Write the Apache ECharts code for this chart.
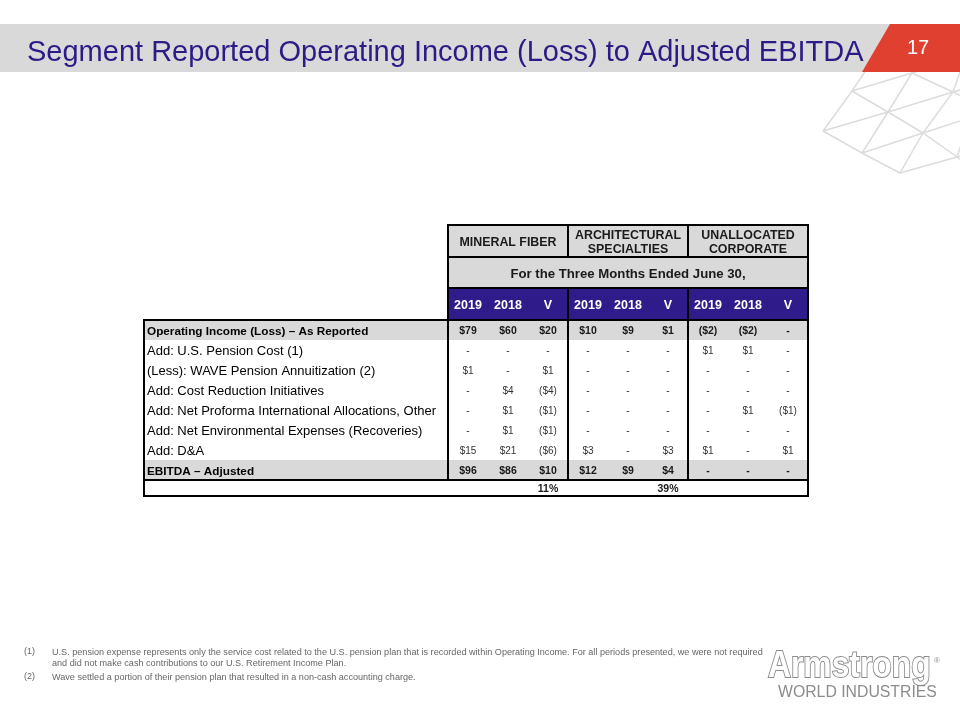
<!DOCTYPE html>
<html>
<head>
<meta charset="utf-8">
<script src="https://cdn.jsdelivr.net/npm/echarts@6/dist/echarts.min.js"></script>
<style>html,body{margin:0;padding:0;background:#fff}#c{width:960px;height:720px}</style>
</head>
<body>
<div id="c"></div>
<script>
// ---------- data ----------
const titleText = 'Segment Reported Operating Income (Loss) to Adjusted EBITDA';
const pageNumber = '17';
const segments = ['MINERAL FIBER', 'ARCHITECTURAL\nSPECIALTIES', 'UNALLOCATED\nCORPORATE'];
const periodLabel = 'For the Three Months Ended June 30,';
const columnHeads = ['2019', '2018', 'V'];
const rowLabels = [
  'Operating Income (Loss) \u2013 As Reported',
  'Add: U.S. Pension Cost (1)',
  '(Less): WAVE Pension Annuitization (2)',
  'Add: Cost Reduction Initiatives',
  'Add: Net Proforma International Allocations, Other',
  'Add: Net Environmental Expenses (Recoveries)',
  'Add: D&A',
  'EBITDA \u2013 Adjusted'
];
const boldRows = [0, 7];
// values in $ millions; null = "-"
const mineralFiber2019 = [79, null, 1, null, null, null, 15, 96];
const mineralFiber2018 = [60, null, null, 4, 1, 1, 21, 86];
const mineralFiberV    = [20, null, 1, -4, -1, -1, -6, 10];
const archSpec2019     = [10, null, null, null, null, null, 3, 12];
const archSpec2018     = [9, null, null, null, null, null, null, 9];
const archSpecV        = [1, null, null, null, null, null, 3, 4];
const unallocated2019  = [-2, 1, null, null, null, null, 1, null];
const unallocated2018  = [-2, 1, null, null, 1, null, null, null];
const unallocatedV     = [null, null, null, null, -1, null, 1, null];
const marginRow = ['', '', '11%', '', '', '39%', '', '', ''];
const footnoteMarks = ['(1)', '', '(2)'];
const footnoteLines = [
  'U.S. pension expense represents only the service cost related to the U.S. pension plan that is recorded within Operating Income. For all periods presented, we were not required',
  'and did not make cash contributions to our U.S. Retirement Income Plan.',
  'Wave settled a portion of their pension plan that resulted in a non-cash accounting charge.'
];

// ---------- layout / style ----------
const FONT = "Arial, 'Liberation Sans', sans-serif";
const GRAY = '#d9d9d9', PURPLE = '#2f1c8a', TXT = '#1a1a1a';
const LABEL_W = 7.6;            // label column width in column units
const headerEdges = [0, 1.6, 3.15, 4.75];
const DATA_TOP = 4.75;
const MARGIN_H = 0.8;
const TEXT_DY = 1.5;
const valueColumns = [mineralFiber2019, mineralFiber2018, mineralFiberV,
  archSpec2019, archSpec2018, archSpecV, unallocated2019, unallocated2018, unallocatedV];
const X_MAX = LABEL_W + valueColumns.length;
const Y_MAX = DATA_TOP + rowLabels.length + MARGIN_H;

function fmt(v) {
  if (v === null || v === undefined) return '-';
  return v < 0 ? '($' + (-v) + ')' : '$' + v;
}

const cells = [];
segments.forEach((s, g) => cells.push({ value: [LABEL_W + 3 * g, LABEL_W + 3 * g + 3, headerEdges[0], headerEdges[1]],
  fill: GRAY, text: s, font: 'bold 12.4px ' + FONT, color: TXT, lh: 14.5 }));
cells.push({ value: [LABEL_W, X_MAX, headerEdges[1], headerEdges[2]], fill: GRAY, text: periodLabel,
  font: 'bold 13.2px ' + FONT, color: TXT });
valueColumns.forEach((col, j) => cells.push({ value: [LABEL_W + j, LABEL_W + j + 1, headerEdges[2], headerEdges[3]],
  fill: PURPLE, text: columnHeads[j % 3], font: 'bold 12.5px ' + FONT, color: '#ffffff' }));
rowLabels.forEach((lab, i) => {
  const bold = boldRows.indexOf(i) >= 0;
  const y0 = DATA_TOP + i, y1 = y0 + 1;
  cells.push({ value: [0, LABEL_W, y0, y1], fill: bold ? GRAY : null, text: lab, align: 'left', pad: 3,
    font: (bold ? 'bold 11.75px ' : '13px ') + FONT, color: '#000' });
  valueColumns.forEach((col, j) => cells.push({ value: [LABEL_W + j, LABEL_W + j + 1, y0, y1], fill: bold ? GRAY : null,
    text: fmt(col[i]), font: (bold ? 'bold 10.5px ' : '10px ') + FONT, color: bold ? TXT : '#333' }));
});
marginRow.forEach((m, j) => cells.push({ value: [LABEL_W + j, LABEL_W + j + 1, Y_MAX - MARGIN_H, Y_MAX], fill: null,
  text: m, font: 'bold 10.5px ' + FONT, color: TXT }));

const rules = [];
rules.push([LABEL_W, 0, X_MAX, 0], [LABEL_W, headerEdges[1], X_MAX, headerEdges[1]], [LABEL_W, headerEdges[2], X_MAX, headerEdges[2]]);
rules.push([LABEL_W, 0, LABEL_W, DATA_TOP], [X_MAX, 0, X_MAX, Y_MAX]);
[1, 2].forEach(g => {
  rules.push([LABEL_W + 3 * g, 0, LABEL_W + 3 * g, headerEdges[1]]);
  rules.push([LABEL_W + 3 * g, headerEdges[2], LABEL_W + 3 * g, Y_MAX - MARGIN_H]);
});
rules.push([0, DATA_TOP, X_MAX, DATA_TOP], [0, Y_MAX - MARGIN_H, X_MAX, Y_MAX - MARGIN_H], [0, Y_MAX, X_MAX, Y_MAX]);
rules.push([0, DATA_TOP, 0, Y_MAX], [LABEL_W, DATA_TOP, LABEL_W, Y_MAX - MARGIN_H]);

function renderCell(params, api) {
  const c = cells[params.dataIndex];
  const p0 = api.coord([api.value(0), api.value(2)]);
  const p1 = api.coord([api.value(1), api.value(3)]);
  const ch = [];
  if (c.fill) ch.push({ type: 'rect', shape: { x: p0[0], y: p0[1], width: p1[0] - p0[0], height: p1[1] - p0[1] },
    style: { fill: c.fill } });
  if (c.text) {
    const left = c.align === 'left';
    ch.push({ type: 'text', x: left ? p0[0] + c.pad : (p0[0] + p1[0]) / 2, y: (p0[1] + p1[1]) / 2 + TEXT_DY,
      style: { text: c.text, x: 0, y: 0, font: c.font, fill: c.color, lineHeight: c.lh,
        align: left ? 'left' : 'center', textAlign: left ? 'left' : 'center',
        verticalAlign: 'middle', textVerticalAlign: 'middle' } });
  }
  return { type: 'group', children: ch };
}
function renderRule(params, api) {
  const a = api.coord([api.value(0), api.value(1)]);
  const b = api.coord([api.value(2), api.value(3)]);
  return { type: 'line', shape: { x1: a[0], y1: a[1], x2: b[0], y2: b[1] },
    style: { stroke: '#000', lineWidth: 2, lineCap: 'square' } };
}

// decorative lattice (slide background)
const LAT = '#dcdcdc';
const lattice = [
  [[852, 91], [912, 73], [966, 57]],
  [[823, 131], [888, 112], [953, 92], [966, 88]],
  [[862, 153], [923, 133], [966, 119]],
  [[900, 173], [957, 157], [966, 154]],
  [[852, 91], [888, 112], [923, 133], [957, 157], [966, 163]],
  [[823, 131], [862, 153], [900, 173]],
  [[912, 73], [953, 92], [966, 98]],
  [[873, 60], [852, 91], [823, 131]],
  [[930, 45], [912, 73], [888, 112], [862, 153]],
  [[966, 55], [953, 92], [923, 133], [900, 173]],
  [[966, 130], [957, 157]]
];

const graphic = [];
lattice.forEach(pts => graphic.push({ type: 'polyline', z: 0, shape: { points: pts }, style: { stroke: LAT, lineWidth: 1.5, fill: null } }));
graphic.push({ type: 'rect', z: 1, shape: { x: 0, y: 24, width: 892, height: 48 }, style: { fill: GRAY } });
graphic.push({ type: 'polygon', z: 1, shape: { points: [[890, 24], [960, 24], [960, 72], [862, 72]] }, style: { fill: '#e0402f' } });
graphic.push({ type: 'text', z: 2, x: 918, y: 48, style: { text: pageNumber, font: '20px ' + FONT, fill: '#fff',
  align: 'center', textAlign: 'center', verticalAlign: 'middle', textVerticalAlign: 'middle' } });
const fnY = [652, 663, 677];
footnoteLines.forEach((t, i) => {
  if (footnoteMarks[i]) graphic.push({ type: 'text', x: 24, y: fnY[i], style: { text: footnoteMarks[i], font: '9px ' + FONT, fill: '#666', verticalAlign: 'middle', textVerticalAlign: 'middle' } });
  graphic.push({ type: 'text', x: 52, y: fnY[i], style: { text: t, font: '9.1px ' + FONT, fill: '#666', verticalAlign: 'middle', textVerticalAlign: 'middle' } });
});
graphic.push({ type: 'text', x: 768, y: 667, scaleX: 0.86, style: { text: 'Armstrong', font: 'bold 37px ' + FONT, fill: '#ffffff', stroke: '#8c8c8c', lineWidth: 2,
  verticalAlign: 'middle', textVerticalAlign: 'middle' } });
graphic.push({ type: 'text', x: 934, y: 657, style: { text: '\u00ae', font: '8px ' + FONT, fill: '#8c8c8c' } });
graphic.push({ type: 'text', x: 778, y: 693, style: { text: 'WORLD INDUSTRIES', font: '15.8px ' + FONT, fill: '#8c8c8c',
  verticalAlign: 'middle', textVerticalAlign: 'middle' } });

const chart = echarts.init(document.getElementById('c'), null, { renderer: 'canvas' });
chart.setOption({
  animation: false,
  backgroundColor: '#fff',
  title: { text: titleText, left: 22, top: 32, textStyle: { fontFamily: FONT, fontSize: 29, fontWeight: 'normal', color: '#2e1a87', lineHeight: 31 } },
  grid: { left: 144, top: 225, width: 664, height: 271 },
  xAxis: { type: 'value', min: 0, max: X_MAX, show: false },
  yAxis: { type: 'value', min: 0, max: Y_MAX, inverse: true, show: false },
  graphic: graphic,
  series: [
    { type: 'custom', name: 'cells', renderItem: renderCell, data: cells.map(c => c.value), clip: false, z: 2, silent: true },
    { type: 'custom', name: 'rules', renderItem: renderRule, data: rules, clip: false, z: 3, silent: true }
  ]
});
</script>
</body>
</html>
